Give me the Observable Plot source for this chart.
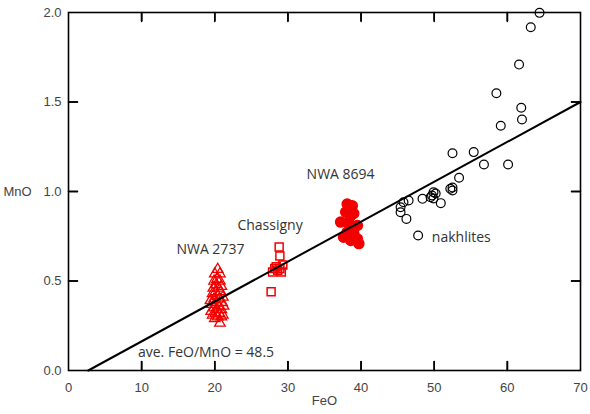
<!DOCTYPE html>
<html>
<head>
<meta charset="utf-8">
<script src="https://cdn.jsdelivr.net/npm/d3@7"></script>
<script src="https://cdn.jsdelivr.net/npm/@observablehq/plot@0.6"></script>
<style>
  html, body { margin: 0; padding: 0; background: #fff; }
</style>
</head>
<body>
<div id="chart"></div>
<script>
// ---- data ----
const nakhliteFeO = [64.4, 63.2, 61.6, 58.5, 61.9, 62.0, 59.1, 56.8, 60.1, 52.5, 55.4, 53.4, 52.5, 52.2, 52.5, 49.9, 49.7, 49.5, 49.9, 50.2, 48.4, 50.9, 46.5, 45.8, 45.4, 45.4, 46.2, 47.8];
const nakhliteMnO = [1.998, 1.918, 1.709, 1.549, 1.468, 1.402, 1.367, 1.151, 1.151, 1.214, 1.22, 1.077, 1.022, 1.015, 1.006, 0.996, 0.978, 0.968, 0.961, 0.989, 0.959, 0.935, 0.95, 0.94, 0.912, 0.884, 0.847, 0.754];

const nwa2737FeO = [20.4, 20.0, 20.7, 20.3, 19.9, 20.7, 20.2, 20.9, 19.8, 20.5, 20.1, 20.8, 19.7, 20.4, 21.1, 19.9, 20.6, 19.4, 20.2, 21.0, 19.6, 20.5, 21.2, 19.9, 20.3, 20.9, 19.5, 20.1, 20.6, 21.1, 19.7, 20.4, 20.9, 20.0, 20.7];
const nwa2737MnO = [0.565, 0.54, 0.54, 0.51, 0.50, 0.50, 0.48, 0.47, 0.46, 0.46, 0.44, 0.44, 0.43, 0.42, 0.41, 0.40, 0.40, 0.39, 0.38, 0.38, 0.37, 0.36, 0.36, 0.35, 0.34, 0.34, 0.33, 0.32, 0.32, 0.31, 0.31, 0.30, 0.30, 0.29, 0.265];

const chassignyFeO = [28.8, 28.9, 28.4, 27.9, 29.1, 29.3, 28.6, 28.2, 28.9, 27.7];
const chassignyMnO = [0.69, 0.64, 0.58, 0.55, 0.55, 0.59, 0.56, 0.57, 0.57, 0.44];

const nwa8694FeO = [38.1, 38.8, 37.9, 39.0, 37.2, 38.3, 39.5, 38.1, 39.0, 37.6, 39.5, 38.6, 39.7, 38.5, 38.9];
const nwa8694MnO = [0.93, 0.92, 0.885, 0.877, 0.829, 0.82, 0.81, 0.773, 0.765, 0.745, 0.735, 0.726, 0.709, 0.86, 0.79];

const trendFeO = [2.7, 70];
const trendMnO = [0, 1.5];

const xDomain = [0, 70];
const yDomain = [0, 2];
const xTickLabels = [0, 10, 20, 30, 40, 50, 60, 70];
const xInnerTicks = [10, 20, 30, 40, 50, 60];
const yTickLabels = [0, 0.5, 1.0, 1.5, 2.0];
const yInnerTicks = [0.5, 1.0, 1.5];

const labelText = ["NWA 8694", "Chassigny", "NWA 2737", "nakhlites", "ave. FeO/MnO = 48.5"];
const labelFeO  = [37.2, 27.55, 19.4, 53.7, 18.8];
const labelMnO  = [1.095, 0.81, 0.676, 0.743, 0.10];

// ---- build tables ----
const zip = (xs, ys) => xs.map((x, i) => ({FeO: x, MnO: ys[i]}));
const nakhlites = zip(nakhliteFeO, nakhliteMnO);
const nwa2737 = zip(nwa2737FeO, nwa2737MnO);
const chassigny = zip(chassignyFeO, chassignyMnO);
const nwa8694 = zip(nwa8694FeO, nwa8694MnO);
const trend = zip(trendFeO, trendMnO);
const labels = labelText.map((t, i) => ({text: t, FeO: labelFeO[i], MnO: labelMnO[i]}));

const W = 590, H = 414, ML = 68, MR = 10, MT = 12, MB = 44;
const frameW = W - ML - MR, frameH = H - MT - MB;
const tickLen = 9;
const tickStyle = {stroke: "black", strokeWidth: 1.6};
const spike = {length: tickLen, anchor: "start", shape: "spike", r: 0, ...tickStyle};

const RED = "#f20000";
const tickFont = {fontFamily: "Liberation Sans, Arial, sans-serif", fontSize: 13, fill: "#444"};

const chart = Plot.plot({
  width: W,
  height: H,
  marginLeft: ML,
  marginRight: MR,
  marginTop: MT,
  marginBottom: MB,
  style: {fontFamily: "Liberation Sans, Arial, sans-serif", fontSize: "13px", color: "#444", background: "#fff"},
  x: {domain: xDomain},
  y: {domain: yDomain},
  marks: [
    // tick labels
    Plot.axisX({ticks: xTickLabels, tickSize: 0, tickPadding: 12, tickFormat: d => String(d), label: null, ...tickFont}),
    Plot.axisY({ticks: yTickLabels, tickSize: 0, tickPadding: 7, tickFormat: d3.format(".1f"), label: null, ...tickFont}),
    // inward ticks on all four sides
    Plot.tickX(xInnerTicks, {x: d => d, insetTop: frameH - tickLen, ...tickStyle}),
    Plot.tickX(xInnerTicks, {x: d => d, insetBottom: frameH - tickLen, ...tickStyle}),
    Plot.tickY(yInnerTicks, {y: d => d, insetRight: frameW - 10, ...tickStyle}),
    Plot.tickY(yInnerTicks, {y: d => d, insetLeft: frameW - tickLen, ...tickStyle}),
    Plot.vector(xInnerTicks, {x: d => d, y: () => yDomain[0], rotate: 0, ...spike}),
    Plot.vector(xInnerTicks, {x: d => d, y: () => yDomain[1], rotate: 180, ...spike}),
    Plot.vector(yInnerTicks, {y: d => d, x: () => xDomain[0], rotate: 90, ...spike}),
    Plot.vector(yInnerTicks, {y: d => d, x: () => xDomain[1], rotate: -90, ...spike}),
    // axis titles
    Plot.text(["MnO"], {frameAnchor: "left", dx: -65, textAnchor: "start", text: d => d, ...tickFont}),
    Plot.text(["FeO"], {frameAnchor: "bottom", dy: 34, textAnchor: "middle", text: d => d, ...tickFont}),
    // data
    Plot.dot(nakhlites, {x: "FeO", y: "MnO", r: 4.4, stroke: "black", strokeWidth: 1.2, fill: "none"}),
    Plot.dot(nwa2737, {x: "FeO", y: "MnO", symbol: "triangle", r: 3.9, stroke: RED, strokeWidth: 1.3, fill: "none"}),
    Plot.dot(chassigny, {x: "FeO", y: "MnO", symbol: "square", r: 4.5, stroke: RED, strokeWidth: 1.5, fill: "none"}),
    Plot.dot(nwa8694, {x: "FeO", y: "MnO", r: 5, stroke: RED, fill: RED}),
    Plot.line(trend, {x: "FeO", y: "MnO", stroke: "black", strokeWidth: 2}),
    // annotations
    Plot.text(labels, {x: "FeO", y: "MnO", text: "text", textAnchor: "middle", lineAnchor: "middle",
      fontFamily: "Open Sans, Noto Sans, sans-serif", fontSize: 14, fill: "#333"}),
    Plot.frame({stroke: "black", strokeWidth: 1.6})
  ]
});
document.getElementById("chart").appendChild(chart);
</script>
</body>
</html>
